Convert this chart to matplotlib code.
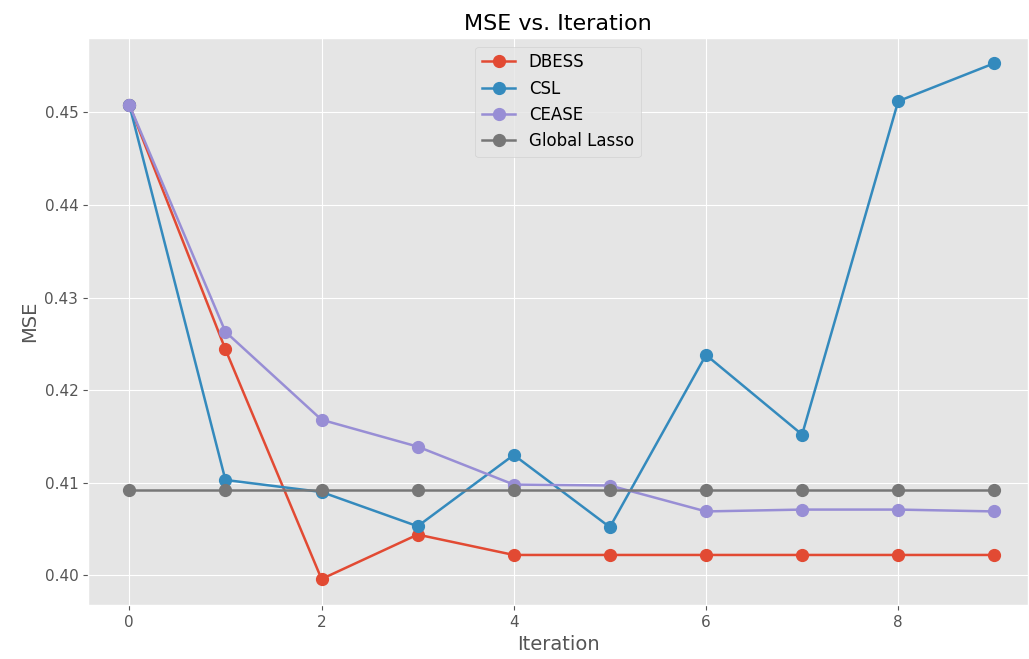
import matplotlib
matplotlib.use("Agg")
import matplotlib.pyplot as plt

plt.style.use("ggplot")

iterations = list(range(10))
dbess = [0.4508, 0.4244, 0.3996, 0.4044, 0.4022, 0.4022, 0.4022, 0.4022, 0.4022, 0.4022]
csl = [0.4508, 0.4103, 0.4090, 0.4053, 0.4130, 0.4052, 0.4238, 0.4152, 0.4512, 0.4553]
cease = [0.4508, 0.4263, 0.4168, 0.4139, 0.4098, 0.4097, 0.4069, 0.4071, 0.4071, 0.4069]
global_lasso = [0.4092] * 10

fig, ax = plt.subplots(figsize=(10.29, 6.59), dpi=100)
ax.plot(iterations, dbess, marker='o', markersize=8.5, linewidth=1.8, label='DBESS')
ax.plot(iterations, csl, marker='o', markersize=8.5, linewidth=1.8, label='CSL')
ax.plot(iterations, cease, marker='o', markersize=8.5, linewidth=1.8, label='CEASE')
ax.plot(iterations, global_lasso, marker='o', markersize=8.5, linewidth=1.8, label='Global Lasso')

ax.set_xlim(-0.43, 9.35)
ax.set_ylim(0.3968, 0.458)
ax.set_xlabel('Iteration', fontsize=14)
ax.set_ylabel('MSE', fontsize=14)
ax.set_title('MSE vs. Iteration', fontsize=16)
ax.tick_params(labelsize=11)
ax.legend(loc='upper center', fontsize=12, facecolor='#e5e5e5')

fig.subplots_adjust(left=0.0855, right=0.999, top=0.942, bottom=0.082)
plt.savefig("out.png")
